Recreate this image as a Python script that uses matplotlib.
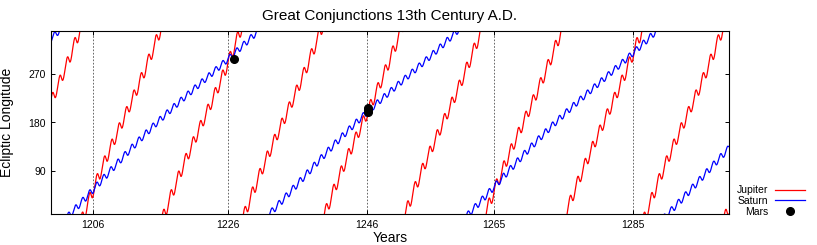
import numpy as np
import matplotlib
matplotlib.use("Agg")
import matplotlib.pyplot as plt

plt.rcParams["font.family"] = ["Liberation Sans", "DejaVu Sans"]

# orbital elements (J2000 ecliptic): a, e, incl, mean long., long. perihelion, long. node
# plus rates per century; extra terms b, c, s, f for Jupiter/Saturn
earth_el = [1.00000018, 0.01673163, -0.00054346, 100.46691572, 102.93005885, -5.11260389]
earth_rt = [-0.00000003, -0.00003661, -0.01337178, 35999.37306329, 0.31795260, -0.24123856]
jupiter_el = [5.20248019, 0.04853590, 1.29861416, 34.33479152, 14.27495244, 100.29282654]
jupiter_rt = [-0.00002864, 0.00018026, -0.00322699, 3034.90371757, 0.18199196, 0.13024619]
jupiter_x = [-0.00012452, 0.06064060, -0.35635438, 38.35125000]
saturn_el = [9.54149883, 0.05550825, 2.49424102, 50.07571329, 92.86136063, 113.63998702]
saturn_rt = [-0.00003065, -0.00032044, 0.00451969, 1222.11494724, 0.54179478, -0.25015002]
saturn_x = [0.00025899, -0.13434469, 0.87320147, 38.35125000]

conj_years = [1206.17, 1226.12, 1246.65, 1265.40, 1285.90]
conj_labels = ["1206", "1226", "1246", "1265", "1285"]
mars_years = [1226.96, 1246.70, 1246.74, 1246.78]
mars_lon = [297, 199, 203, 207]
lon_ticks = [90, 180, 270]


def helio(el, rt, extra, T):
    a = el[0] + rt[0] * T
    e = el[1] + rt[1] * T
    inc = np.radians(el[2] + rt[2] * T)
    L = el[3] + rt[3] * T
    peri = el[4] + rt[4] * T
    node = el[5] + rt[5] * T
    b, c, s, f = extra
    L = L + b * T**2 + c * np.cos(np.radians(f * T)) + s * np.sin(np.radians(f * T))
    w = np.radians(peri - node)
    O = np.radians(node)
    M = np.radians((L - peri + 180) % 360 - 180)
    E = M + e * np.sin(M)
    for _ in range(10):
        E = E - (E - e * np.sin(E) - M) / (1 - e * np.cos(E))
    xp = a * (np.cos(E) - e)
    yp = a * np.sqrt(1 - e**2) * np.sin(E)
    x = (np.cos(w) * np.cos(O) - np.sin(w) * np.sin(O) * np.cos(inc)) * xp \
        + (-np.sin(w) * np.cos(O) - np.cos(w) * np.sin(O) * np.cos(inc)) * yp
    y = (np.cos(w) * np.sin(O) + np.sin(w) * np.cos(O) * np.cos(inc)) * xp \
        + (-np.sin(w) * np.sin(O) + np.cos(w) * np.cos(O) * np.cos(inc)) * yp
    return x, y


def geo_lon(el, rt, extra, years):
    T = (years - 2000.0) / 100.0
    xe, ye = helio(earth_el, earth_rt, [0, 0, 0, 0], T)
    xp, yp = helio(el, rt, extra, T)
    lon = np.degrees(np.arctan2(yp - ye, xp - xe))
    lon = lon + 1.396971 * T + 0.0003086 * T**2   # precession -> equinox of date
    lon = lon % 360
    # break the line where it wraps round
    jumps = np.where(np.abs(np.diff(lon)) > 180)[0] + 1
    return np.insert(years, jumps, np.nan), np.insert(lon, jumps, np.nan)


years = np.arange(1199.0, 1301.0, 0.005)
jx, jy = geo_lon(jupiter_el, jupiter_rt, jupiter_x, years)
sx, sy = geo_lon(saturn_el, saturn_rt, saturn_x, years)

fig = plt.figure(figsize=(8.17, 2.45), dpi=100)
ax = fig.add_axes([0.063, 0.1253, 0.8287, 0.7494])

for c in conj_years:
    ax.axvline(c, color="0.3", lw=0.6, ls=(0, (2, 2)), zorder=1)

ax.plot(jx, jy, color="#ff0000", lw=0.9, label="Jupiter")
ax.plot(sx, sy, color="#0000ff", lw=0.9, label="Saturn")
ax.plot(mars_years, mars_lon, "o", color="black", ms=5.5, ls="none", label="Mars")

ax.set_xlim(1200, 1300)
ax.set_ylim(10, 350)
ax.set_xticks(conj_years)
ax.set_xticklabels(conj_labels)
ax.set_yticks(lon_ticks)
ax.tick_params(direction="in", length=3, width=0.7, labelsize=7.5, top=True, right=True, pad=4)
for sp in ax.spines.values():
    sp.set_linewidth(0.8)

ax.set_title("Great Conjunctions 13th Century A.D.", fontsize=11, pad=8)
ax.set_xlabel("Years", fontsize=10)
ax.set_ylabel("Ecliptic Longitude", fontsize=10)
ax.xaxis.set_label_coords(0.5, -0.09)
ax.yaxis.set_label_coords(-0.055, 0.5)

ax.legend(loc="lower right", bbox_to_anchor=(0.985, 0.115), bbox_transform=fig.transFigure,
          frameon=False, fontsize=7.5, markerfirst=False, handlelength=2.9, handletextpad=0.6,
          labelspacing=0.08, borderpad=0, borderaxespad=0)

fig.savefig("out.png", dpi=100)
